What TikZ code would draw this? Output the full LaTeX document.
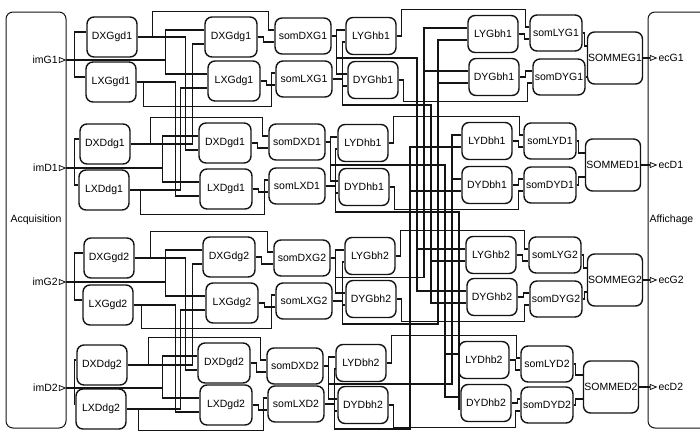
\documentclass[tikz,border=0pt]{standalone}
\usepackage{fontspec}
\setmainfont{Liberation Sans}
\usepackage{tikz}
\usepackage{xcolor}
\usetikzlibrary{shapes.geometric, positioning}
\definecolor{ink}{RGB}{20, 20, 20}

\begin{document}
\begin{tikzpicture}[x=1pt, y=-1pt,
  blk/.style={rectangle, draw=ink, line width=1.4pt, rounded corners=7pt,
              inner sep=0.5pt, minimum width=50pt, minimum height=40pt,
              font=\fontsize{10.5}{12}\selectfont},
  wire/.style={draw=ink, line width=1.1pt},
  port/.style={isosceles triangle, draw=ink, line width=0.8pt,
               inner sep=0pt, minimum size=5pt},
  lbl/.style={font=\fontsize{10.5}{12}\selectfont, inner sep=1pt}]

\useasboundingbox (0,0) rectangle (700,431);
\clip (0,0) rectangle (700,431);

% Acquisition and Affichage
\node[blk, line width=1pt, minimum width=60pt, minimum height=416pt] (acq) at (36,220) {Acquisition};
\node[blk, line width=1pt, minimum width=112pt, minimum height=416pt] (aff) at (704,220) {};
\node[lbl, right=1pt of aff.west] (afflbl) {Affichage};

% Ports
\foreach \n/\y in {imG1/60, imD1/168, imG2/282, imD2/388}
  \node[port, label={[lbl]left:\n}] (\n) at (61,\y) {};
\foreach \n/\y in {ecG1/58, ecD1/165, ecG2/280, ecD2/387}
  \node[port, label={[lbl]right:\n}] (\n) at (652,\y) {};

% Horizontal derivatives
\foreach \n/\x/\y in {DXGgd1/112/37, LXGgd1/111/82, DXDdg1/105/144, LXDdg1/104/190,
                      DXGgd2/109/258, LXGgd2/108/305, DXDdg2/102/365, LXDdg2/101/409}
  \node[blk] (\n) at (\x,\y) {\n};
\foreach \n/\x/\y in {DXGdg1/231/37, LXGdg1/234/81, DXDgd1/225/143, LXDgd1/226/189,
                      DXGdg2/229/257, LXGdg2/232/303, DXDgd2/224/363, LXDgd2/226/405}
  \node[blk, minimum width=52pt] (\n) at (\x,\y) {\n};
\foreach \n/\x/\y in {somDXG1/303/36, somLXG1/304/79, somDXD1/297/142, somLXD1/297/186,
                      somDXG2/302/258, somLXG2/304/301, somDXD2/295/366, somLXD2/296/404}
  \node[blk, minimum width=56pt, minimum height=36pt] (\n) at (\x,\y) {\n};

% Vertical derivatives
\foreach \n/\x/\y in {LYGhb1/371/36, DYGhb1/373/80, LYDhb1/363/143, DYDhb1/364/187,
                      LYGbh2/370/256, DYGbh2/371/299, LYDbh2/361/363, DYDbh2/363/405}
  \node[blk, minimum height=37pt] (\n) at (\x,\y) {\n};
\foreach \n/\x/\y in {LYGbh1/493/34, DYGbh1/494/77, LYDbh1/487/141, DYDbh1/487/185,
                      LYGhb2/491/255, DYGhb2/492/297, LYDhb2/484/360, DYDhb2/486/403}
  \node[blk, minimum height=37pt] (\n) at (\x,\y) {\n};
\foreach \n/\x/\y in {somLYG1/556/33, somDYG1/559/77, somLYD1/550/141, somDYD1/550/185,
                      somLYG2/555/255, somDYG2/556/299, somLYD2/547/364, somDYD2/547/405}
  \node[blk, minimum width=52pt, minimum height=36pt] (\n) at (\x,\y) {\n};

% Totals
\foreach \n/\x/\y in {SOMMEG1/615/58, SOMMED1/613/165, SOMMEG2/615/280, SOMMED2/611/387}
  \node[blk, minimum width=55pt, minimum height=52pt] (\n) at (\x,\y) {\n};

% Images to the first two columns
\foreach \im/\fa/\fb/\ca/\cb/\pca/\pcb/\ka/\kb/\kc in {
    imG1/DXGgd1/LXGgd1/DXGdg1/LXGdg1/DXDgd1/LXDgd1/99/48/39,
    imD1/DXDdg1/LXDdg1/DXDgd1/LXDgd1/DXGdg1/LXGdg1/96/62/51,
    imG2/DXGgd2/LXGgd2/DXGdg2/LXGdg2/DXDgd2/LXDgd2/99/51/42,
    imD2/DXDdg2/LXDdg2/DXDgd2/LXDgd2/DXGdg2/LXGdg2/96/65/54}{
  \draw[wire] (\im.east) -- ++(8,0) |- ([yshift=5pt]\fa.west);
  \draw[wire] (\im.east) -- ++(8,0) |- ([yshift=5pt]\fb.west);
  \draw[wire] (\im.east) -- ++(\ka,0) |- ([yshift=7pt]\ca.west);
  \draw[wire] (\im.east) -- ++(\ka,0) |- ([yshift=7pt]\cb.west);
  \draw[wire] (\fa.east) -- ++(\kb,0) |- ([yshift=-7pt]\pca.west);
  \draw[wire] (\fb.east) -- ++(\kc,0) |- ([yshift=-7pt]\pcb.west);
}

% Horizontal derivatives to their sums
\foreach \fa/\fb/\ca/\cb/\ua/\ub/\kt/\kd in {
    DXGgd1/LXGgd1/DXGdg1/LXGdg1/somDXG1/somLXG1/15/7,
    DXDdg1/LXDdg1/DXDgd1/LXDgd1/somDXD1/somLXD1/20/11,
    DXGgd2/LXGgd2/DXGdg2/LXGdg2/somDXG2/somLXG2/16/8,
    DXDdg2/LXDdg2/DXDgd2/LXDgd2/somDXD2/somLXD2/21/12}{
  \draw[wire] (\fa.east) -- ++(\kt,0) |- ([yshift=5pt]\ca.north)
              -| ([xshift=-6pt,yshift=6pt]\ua.west) -- ([yshift=6pt]\ua.west);
  \draw[wire] (\fb.east) -- ++(\kd,0) |- ([yshift=-5pt]\cb.south)
              -| ([xshift=-4pt,yshift=6pt]\ub.west) -- ([yshift=6pt]\ub.west);
  \draw[wire] (\ca.east) -- ++(6,0) |- ([yshift=-6pt]\ua.west);
  \draw[wire] (\cb.east) -- ++(6,0) |- ([yshift=-6pt]\ub.west);
}

% Sums to the vertical derivatives
\foreach \ua/\ub/\ta/\tb/\pva/\pvb/\xu/\yu/\xv/\yv in {
    somDXG1/somLXG1/LYGhb1/DYGhb1/LYGhb2/DYGhb2/417/58/431/105,
    somDXD1/somLXD1/LYDhb1/DYDhb1/LYDhb2/DYDhb2/445/165/459/212,
    somDXG2/somLXG2/LYGbh2/DYGbh2/LYGbh1/DYGbh1/424/277.5/438/324,
    somDXD2/somLXD2/LYDbh2/DYDbh2/LYDbh1/DYDbh1/452/384/410/429}{
  \draw[wire] (\ua.east) -- ++(5,0) |- ([yshift=6pt]\ta.west);
  \draw[wire] (\ua.east) -- ++(5,0) |- ([yshift=6pt]\tb.west);
  \draw[wire] (\ub.east) -- ++(10,0) |- ([yshift=-6pt]\ta.west);
  \draw[wire] (\ub.east) -- ++(10,0) |- ([yshift=-6pt]\tb.west);
  \draw[wire] (\ua.east) -- ++(5,0) |- (\xu,\yu) |- ([yshift=6pt]\pva.west);
  \draw[wire] (\ua.east) -- ++(5,0) |- (\xu,\yu) |- ([yshift=6pt]\pvb.west);
  \draw[wire] (\ub.east) -- ++(10,0) |- (\xv,\yv) |- ([yshift=-6pt]\pva.west);
  \draw[wire] (\ub.east) -- ++(10,0) |- (\xv,\yv) |- ([yshift=-6pt]\pvb.west);
}

% Vertical derivatives to the displays
\foreach \ta/\tb/\va/\vb/\wa/\wb/\tot/\ec in {
    LYGhb1/DYGhb1/LYGbh1/DYGbh1/somLYG1/somDYG1/SOMMEG1/ecG1,
    LYDhb1/DYDhb1/LYDbh1/DYDbh1/somLYD1/somDYD1/SOMMED1/ecD1,
    LYGbh2/DYGbh2/LYGhb2/DYGhb2/somLYG2/somDYG2/SOMMEG2/ecG2,
    LYDbh2/DYDbh2/LYDhb2/DYDhb2/somLYD2/somDYD2/SOMMED2/ecD2}{
  \draw[wire] (\ta.east) -- ++(5,0) |- ([yshift=5pt]\va.north)
              -| ([xshift=-4pt,yshift=6pt]\wa.west) -- ([yshift=6pt]\wa.west);
  \draw[wire] (\tb.east) -- ++(5,0) |- ([yshift=-5pt]\vb.south)
              -| ([xshift=-5pt,yshift=-6pt]\wb.west) -- ([yshift=-6pt]\wb.west);
  \draw[wire] (\va.east) -- ++(6,0) |- ([yshift=-6pt]\wa.west);
  \draw[wire] (\vb.east) -- ++(6,0) |- ([yshift=6pt]\wb.west);
  \draw[wire] (\wa.east) -- ++(1.5,0) |- ([yshift=12pt]\tot.west);
  \draw[wire] (\wb.east) -- ++(1.5,0) |- ([yshift=-12pt]\tot.west);
  \draw[wire] (\tot.east) -- (\ec.west);
}

\end{tikzpicture}
\end{document}
